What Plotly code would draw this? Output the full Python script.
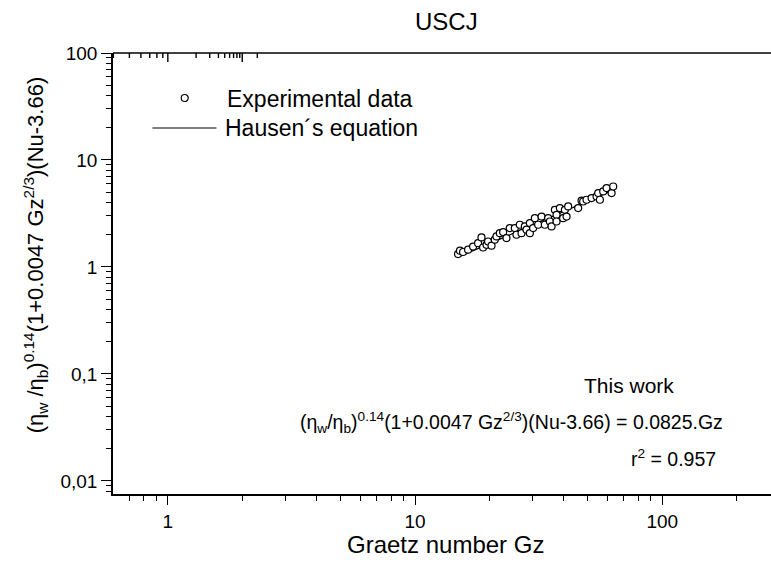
import math
import plotly.graph_objects as go

# ---- data ----
gz_exp = [14.93, 15.2, 15.64, 16.39, 17.17, 17.99, 18.57, 18.85, 19.46, 19.75, 20.39, 21.02, 21.36,
          22.03, 22.72, 23.44, 24.17, 25.33, 25.73, 26.54, 26.97, 27.81, 28.25, 29.14, 29.14, 30.05,
          30.53, 31.48, 32.50, 33.51, 34.56, 35.11, 35.67, 36.78, 37.37, 37.37, 38.54, 39.74, 40.38,
          41.02, 41.64, 45.70, 47.17, 47.88, 49.41, 51.79, 54.26, 55.07, 55.96, 57.71, 59.56, 62.40, 63.34]
y_exp = [1.32, 1.42, 1.38, 1.45, 1.55, 1.67, 1.89, 1.52, 1.61, 1.73, 1.58, 1.80, 1.93,
         2.07, 2.12, 1.86, 2.31, 2.31, 2.00, 2.48, 2.07, 2.39, 2.23, 2.57, 2.07, 2.31,
         2.86, 2.48, 2.96, 2.48, 2.86, 2.66, 2.39, 3.42, 3.07, 2.66, 3.55, 2.86, 3.42,
         2.96, 3.68, 3.55, 4.16, 4.09, 4.25, 4.40, 4.56, 4.90, 4.25, 5.08, 5.46, 4.90, 5.65]

gz_line = [15.0, 63.0]
y_line = [1.24, 5.20]

x_major = [1, 10, 100]
x_major_text = ["1", "10", "100"]
x_minor = [0.7, 0.8, 0.9, 2, 3, 4, 5, 6, 7, 8, 9, 20, 30, 40, 50, 60, 70, 80, 90, 200]
y_major = [0.01, 0.1, 1, 10, 100]
y_major_text = ["0,01", "0,1", "1", "10", "100"]
y_minor = [m * d for d in [0.001, 0.01, 0.1, 1, 10] for m in range(2, 10)]

FONT = "Liberation Sans, Arial, sans-serif"

# plot area in pixels
L, R, T, B = 113.3, 771.0, 53.3, 494.3
W, H = R - L, B - T


def px(xp):
    return (xp - L) / W


def py(yp):
    return (B - yp) / H


fig = go.Figure()

fig.add_trace(go.Scatter(x=gz_line, y=y_line, mode="lines",
                         line=dict(color="black", width=1.2), showlegend=False))
fig.add_trace(go.Scatter(x=gz_exp, y=y_exp, mode="markers",
                         marker=dict(symbol="circle", size=7, color="white",
                                     line=dict(color="black", width=1.2)),
                         showlegend=False))

xr = [-0.2218, 2.440]
yr = [-2.1224, 2.0]

fig.update_layout(
    width=771, height=563,
    margin=dict(l=L, r=0, t=T, b=563 - B, pad=0),
    paper_bgcolor="white", plot_bgcolor="white",
    font=dict(family=FONT, color="black"),
    xaxis=dict(type="log", range=xr, showgrid=False, zeroline=False, mirror=False,
               showline=True, linecolor="black", linewidth=1.6,
               ticks="outside", ticklen=9, tickwidth=1.4, tickcolor="black",
               tickmode="array", tickvals=x_major, ticktext=x_major_text,
               tickfont=dict(size=19, family=FONT),
               minor=dict(tickmode="array", tickvals=x_minor, ticks="outside",
                          ticklen=5, tickwidth=1.4, tickcolor="black", showgrid=False)),
    yaxis=dict(type="log", range=yr, showgrid=False, zeroline=False, mirror=False,
               showline=True, linecolor="black", linewidth=1.6,
               ticks="outside", ticklen=10, tickwidth=1.4, tickcolor="black",
               tickmode="array", tickvals=y_major, ticktext=y_major_text,
               tickfont=dict(size=19, family=FONT),
               minor=dict(tickmode="array", tickvals=y_minor, ticks="outside",
                          ticklen=5, tickwidth=1.4, tickcolor="black", showgrid=False)),
    showlegend=False,
)


def note(text, xp, yp, size, xanchor="center", angle=0):
    return dict(text=text, x=px(xp), y=py(yp), xref="paper", yref="paper",
                xanchor=xanchor, yanchor="middle", textangle=angle,
                showarrow=False, font=dict(size=size, family=FONT, color="black"))


ann = [
    note("USCJ", 447, 22, 24),
    note("Graetz number Gz", 446, 545, 24),
    note("(η<sub>w</sub> /η<sub>b</sub>)<sup>0.14</sup>(1+0.0047 Gz<sup>2/3</sup>)(Nu-3.66)",
         36, 255, 22, angle=-90),
    note("Experimental data", 225, 99, 23, xanchor="left"),
    note("Hausen´s equation", 223, 128, 23, xanchor="left"),
    note("This work", 629, 386, 21),
    note("(η<sub>w</sub>/η<sub>b</sub>)<sup>0.14</sup>(1+0.0047 Gz<sup>2/3</sup>)(Nu-3.66) = 0.0825.Gz",
         725, 423, 19.5, xanchor="right"),
    note("r<sup>2</sup> = 0.957", 718, 458, 19.5, xanchor="right"),
]
fig.update_layout(annotations=ann)

shapes = [
    dict(type="line", xref="paper", yref="paper", x0=0, x1=1, y0=1, y1=1,
         line=dict(color="black", width=1.6)),
    dict(type="circle", xref="paper", yref="paper",
         x0=px(181.5), x1=px(188.5), y0=py(101.8), y1=py(94.8),
         line=dict(color="black", width=1.2), fillcolor="white"),
    dict(type="line", xref="paper", yref="paper",
         x0=px(152.7), x1=px(216.7), y0=py(128.3), y1=py(128.3),
         line=dict(color="black", width=1.2)),
]
# top mirror ticks pointing into the plot (placed through the x scale)
for vals, ln in ((x_major, 9), (x_minor, 5)):
    for v in vals:
        shapes.append(dict(type="line", xref="x", yref="paper",
                           x0=math.log10(v), x1=math.log10(v), y0=1, y1=1 - ln / H,
                           line=dict(color="black", width=1.4)))
fig.update_layout(shapes=shapes)

fig.write_html("out.html", config={"displayModeBar": False})
